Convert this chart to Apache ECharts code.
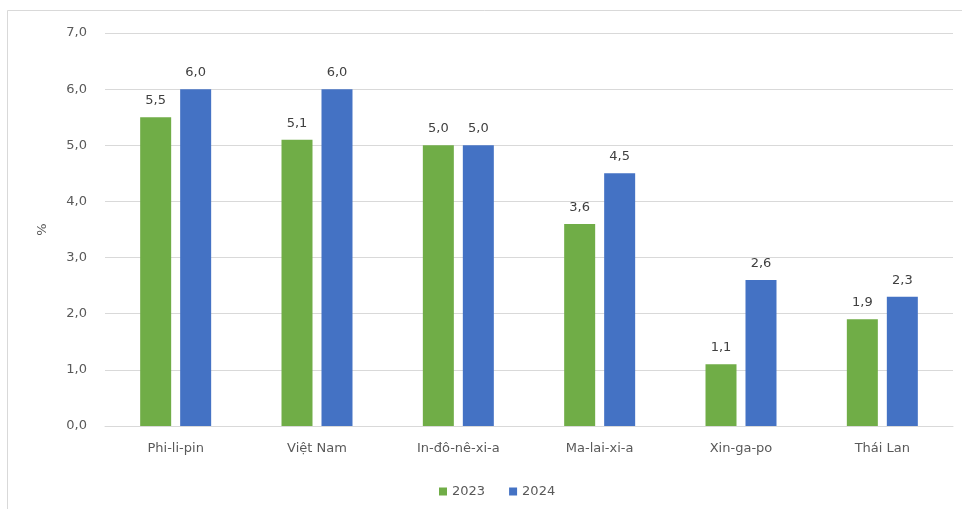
<!DOCTYPE html>
<html><head><meta charset="utf-8">
<script src="https://cdn.jsdelivr.net/npm/echarts@6/dist/echarts.min.js"></script>
<style>html,body{margin:0;padding:0;background:#fff}#c{width:962px;height:509px}</style>
</head><body><div id="c"></div>
<script>
const categories = ['Phi-li-pin','Việt Nam','In-đô-nê-xi-a','Ma-lai-xi-a','Xin-ga-po','Thái Lan'];
const values2023 = [5.5, 5.1, 5.0, 3.6, 1.1, 1.9];
const values2024 = [6.0, 6.0, 5.0, 4.5, 2.6, 2.3];
const seriesNames = ['2023','2024'];
const fmt = v => Number(v).toFixed(1).replace('.', ',');
const chart = echarts.init(document.getElementById('c'));
const font = 'DejaVu Sans';
chart.setOption({
  animation: false,
  backgroundColor: '#fff',
  graphic: [
    {type:'line', shape:{x1:7.5,y1:10.5,x2:962,y2:10.5}, style:{stroke:'#d9d9d9', lineWidth:1}, silent:true},
    {type:'line', shape:{x1:7.5,y1:10.5,x2:7.5,y2:509}, style:{stroke:'#d9d9d9', lineWidth:1}, silent:true}
  ],
  grid: {left:105, right:9, top:33, bottom:83, containLabel:false},
  legend: {top:480, left:434, itemWidth:8, itemHeight:8, itemGap:24, icon:'rect',
    textStyle:{color:'#595959', fontSize:13, fontFamily:font}, data: seriesNames},
  xAxis: {type:'category', data: categories,
    axisLine:{lineStyle:{color:'#d9d9d9'}}, axisTick:{show:false},
    axisLabel:{color:'#595959', fontSize:13, fontFamily:font, margin:16}},
  yAxis: {type:'value', min:0, max:7, interval:1, name:'%', nameLocation:'middle', nameGap:56,
    nameRotate:90, nameTextStyle:{color:'#595959', fontSize:13, fontFamily:font},
    axisLine:{show:false}, axisTick:{show:false},
    axisLabel:{color:'#595959', fontSize:13, fontFamily:font, margin:18, formatter: fmt},
    splitLine:{lineStyle:{color:'#d9d9d9'}}},
  series: [
    {name:seriesNames[0], type:'bar', data: values2023, barWidth:31, barGap:'29%',
     itemStyle:{color:'#70AD47'},
     label:{show:true, position:'top', distance:10, color:'#404040', fontSize:13, fontFamily:font, formatter: p => fmt(p.value)}},
    {name:seriesNames[1], type:'bar', data: values2024, barWidth:31,
     itemStyle:{color:'#4472C4'},
     label:{show:true, position:'top', distance:10, color:'#404040', fontSize:13, fontFamily:font, formatter: p => fmt(p.value)}}
  ]
});
</script></body></html>
